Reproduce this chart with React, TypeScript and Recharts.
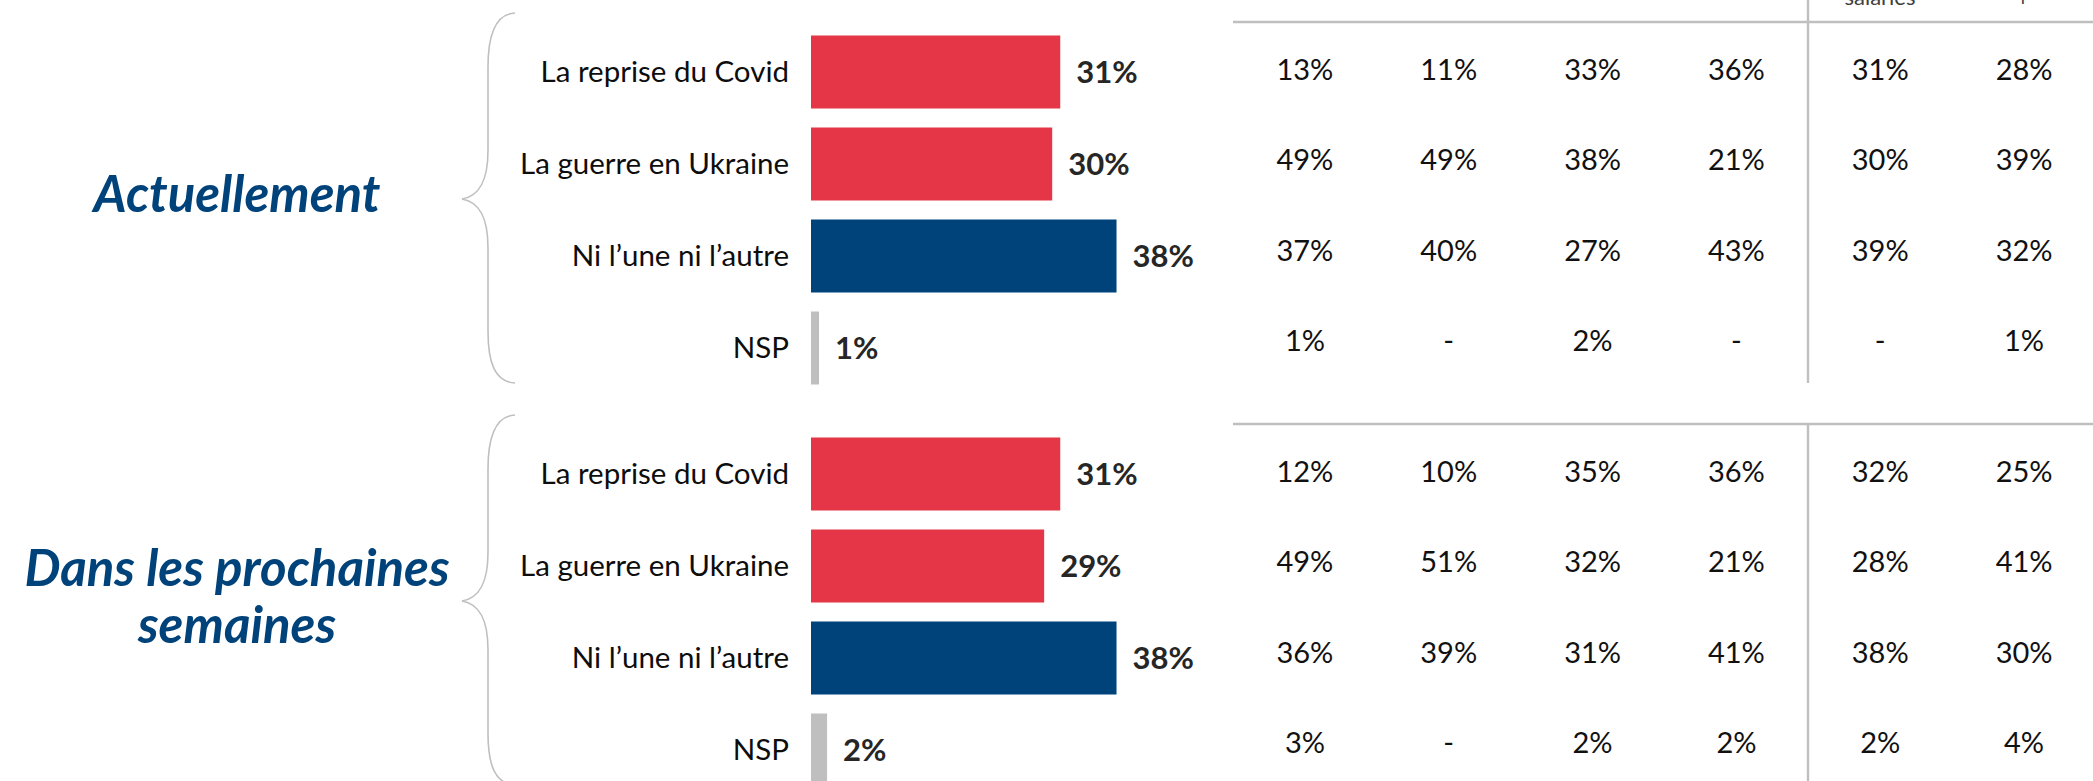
import React from "react";
import { BarChart, Bar, XAxis, YAxis, Cell, LabelList, ScatterChart, Scatter } from "recharts";

// libellés et valeurs
const categories = ["La reprise du Covid", "La guerre en Ukraine", "Ni l\u2019une ni l\u2019autre", "NSP"];
const actuelTitle = ["Actuellement"];
const prochainesTitle = ["Dans les prochaines", "semaines"];
const actuelValues = [31, 30, 38, 1];
const prochainesValues = [31, 29, 38, 2];

const actuelTable = [
  ["13%", "11%", "33%", "36%", "31%", "28%"],
  ["49%", "49%", "38%", "21%", "30%", "39%"],
  ["37%", "40%", "27%", "43%", "39%", "32%"],
  ["1%", "-", "2%", "-", "-", "1%"],
];
const prochainesTable = [
  ["12%", "10%", "35%", "36%", "32%", "25%"],
  ["49%", "51%", "32%", "21%", "28%", "41%"],
  ["36%", "39%", "31%", "41%", "38%", "30%"],
  ["3%", "-", "2%", "2%", "2%", "4%"],
];
// en-têtes coupés en haut de l'image
const headerFragments = ["salari\u00e9s", "+"];

const RED = "#E43646";
const BLUE = "#00437A";
const GREY = "#BFBFBF";
const TITLE_BLUE = "#00427A";
const barColors = [RED, RED, BLUE, GREY];
const FONT = "Lato, 'Open Sans', sans-serif";

const W = 2093;
const H = 781;
const SHIFT = 402;

function Brace({ dy }: { dy: number }) {
  return (
    <g transform={`translate(0,${dy})`}>
      <path
        d="M515,13 C495,14 488,35 488,67 L488,150 C488,180 480,196 462,199 C480,202 488,218 488,248 L488,331 C488,363 495,382 515,383"
        fill="none"
        stroke={GREY}
        strokeWidth={1.6}
      />
    </g>
  );
}

function Section({ top, values, table }: { top: number; values: number[]; table: string[][] }) {
  const barData = categories.map((label, i) => ({ label, value: values[i] }));
  const cells = table.flatMap((row, r) => row.map((text, c) => ({ row: r, col: c, text })));

  return (
    <>
      <div style={{ position: "absolute", left: 0, top }}>
        <BarChart
          width={1213}
          height={400}
          data={barData}
          layout="vertical"
          margin={{ top: 25.5, right: 0, bottom: 6.5, left: 0 }}
        >
          <XAxis type="number" domain={[0, 50]} hide />
          <YAxis
            type="category"
            dataKey="label"
            width={811}
            interval={0}
            tickLine={false}
            axisLine={false}
            tickSize={0}
            tickMargin={22}
            tick={{ fill: "#0D0D0D", fontSize: 29.5, fontFamily: FONT }}
          />
          <Bar dataKey="value" barSize={73} isAnimationActive={false}>
            {barData.map((d, i) => (
              <Cell key={d.label} fill={barColors[i]} />
            ))}
            <LabelList
              dataKey="value"
              position="right"
              offset={16}
              formatter={(v: any) => `${v}%`}
              fill="#262626"
              fontSize={31}
              fontWeight={700}
              fontFamily={FONT}
            />
          </Bar>
        </BarChart>
      </div>
      <div style={{ position: "absolute", left: 1233, top }}>
        <ScatterChart width={863} height={400} margin={{ top: 24.8, right: 0, bottom: 13.9, left: 0 }}>
          <XAxis type="number" dataKey="col" domain={[-0.5, 5.5]} hide />
          <YAxis type="number" dataKey="row" domain={[-0.5, 3.5]} reversed hide />
          <Scatter
            data={cells}
            isAnimationActive={false}
            shape={(p: any) => (
              <text
                x={p.cx}
                y={p.cy}
                dy="0.35em"
                textAnchor="middle"
                fontSize={29}
                fontFamily={FONT}
                fill="#111111"
              >
                {p.payload.text}
              </text>
            )}
          />
        </ScatterChart>
      </div>
    </>
  );
}

export default function App() {
  const titleProps = {
    textAnchor: "middle" as const,
    fontSize: 51,
    fontWeight: 700,
    fontStyle: "italic",
    fontFamily: FONT,
    fill: TITLE_BLUE,
  };

  return (
    <div style={{ position: "relative", width: W, height: H, overflow: "hidden", background: "#fff", fontFamily: FONT }}>
      <style>{"body{margin:0}"}</style>
      <svg width={W} height={H} style={{ position: "absolute", left: 0, top: 0 }}>
        <Brace dy={0} />
        <Brace dy={SHIFT} />
        {actuelTitle.map((t, i) => (
          <text key={t} x={237} y={212 + i * 57} {...titleProps}>{t}</text>
        ))}
        {prochainesTitle.map((t, i) => (
          <text key={t} x={237} y={586 + i * 57} {...titleProps}>{t}</text>
        ))}
        {/* lignes du tableau */}
        <line x1={1233} x2={W} y1={22} y2={22} stroke={GREY} strokeWidth={2.6} />
        <line x1={1808} x2={1808} y1={0} y2={383} stroke={GREY} strokeWidth={2.4} />
        <line x1={1233} x2={W} y1={22 + SHIFT} y2={22 + SHIFT} stroke={GREY} strokeWidth={2.6} />
        <line x1={1808} x2={1808} y1={22 + SHIFT} y2={H} stroke={GREY} strokeWidth={2.4} />
        <text x={1880} y={5} textAnchor="middle" fontSize={22} fontFamily={FONT} fill="#404040">{headerFragments[0]}</text>
        <text x={2023} y={6} textAnchor="middle" fontSize={22} fontFamily={FONT} fill="#404040">{headerFragments[1]}</text>
      </svg>
      <Section top={0} values={actuelValues} table={actuelTable} />
      <Section top={SHIFT} values={prochainesValues} table={prochainesTable} />
    </div>
  );
}
